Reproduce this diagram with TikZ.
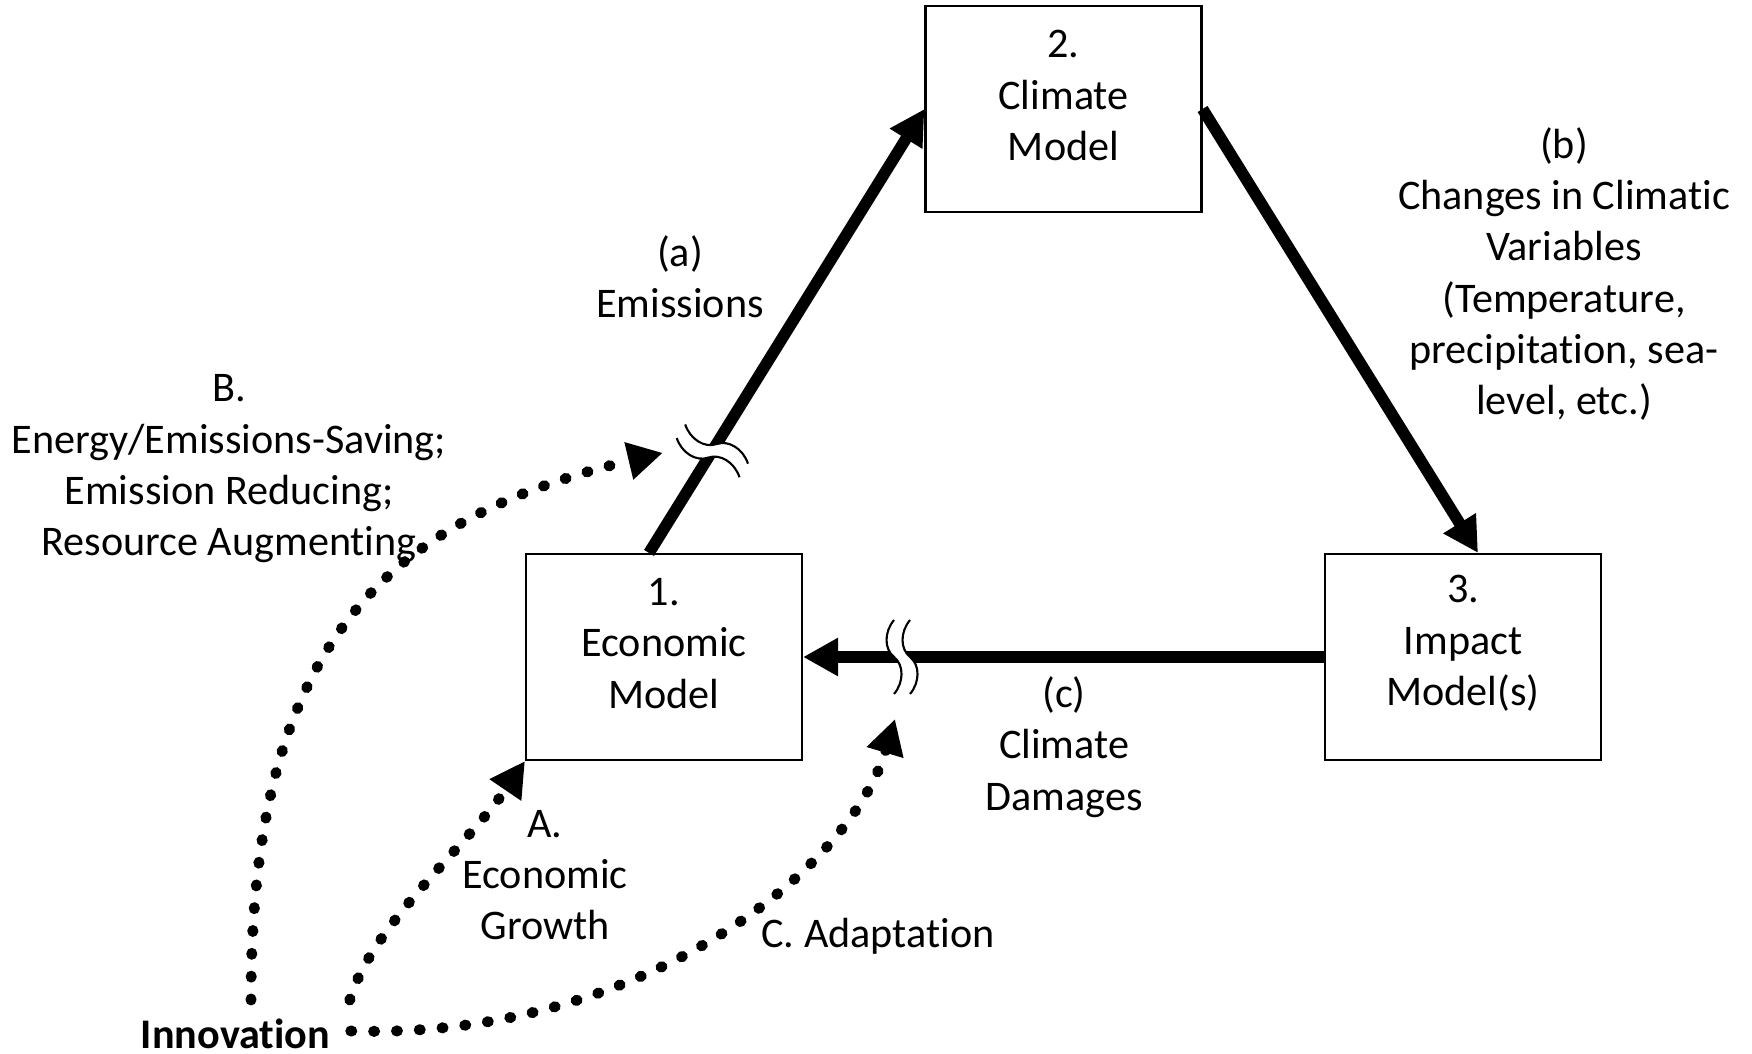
\documentclass[tikz,border=0pt]{standalone}
\usepackage{fontspec}
\setmainfont{Carlito}[Ligatures=NoCommon]
\usepackage{tikz}
\usetikzlibrary{arrows.meta, positioning, calc}

\begin{document}
\begin{tikzpicture}[
  font=\fontsize{12}{14.6}\selectfont,
  modelbox/.style={draw=black, line width=0.6pt, minimum width=2.76cm, minimum height=2.06cm},
  boxtext/.style={align=center, inner sep=0pt},
  note/.style={align=center, inner sep=0pt},
  flow/.style={-{Triangle[length=3.5mm, width=3.6mm]}, line width=3.3pt},
  spill/.style={-{Triangle[length=3.5mm, width=3.6mm]}, line width=3.1pt, line cap=round, dash pattern=on 0.3pt off 6.2pt},
  cut/.style={line width=0.6pt}
]
\useasboundingbox (0,0) rectangle (17.52,-10.54);

\node[modelbox] (eco) at (6.64,-6.57) {};
\node[modelbox] (clim) at (10.635,-1.09) {};
\node[modelbox] (imp) at (14.63,-6.57) {};
\node[boxtext] (ecotext) at ([yshift=1.35mm]eco.center) {1.\\Economic\\Model};
\node[boxtext] (climtext) at ([yshift=1.35mm]clim.center) {2.\\Climate\\Model};
\node[boxtext] (imptext) at ([yshift=1.35mm]imp.center) {3.\\Impact\\Model(s)};

\node[note] (emis) at (6.80,-2.77) {(a)\\Emissions};
\node[note] (vars) at (15.64,-2.74) {(b)\\Changes in Climatic\\Variables\\(Temperature,\\precipitation, sea-\\level, etc.)};
\node[note] (dmg) at (10.64,-7.47) {(c)\\Climate\\Damages};
\node[note] (saving) at (2.29,-4.69) {B.\\Energy/Emissions-Saving;\\Emission Reducing;\\Resource Augmenting};
\node[note] (growth) at (5.45,-8.75) {A.\\Economic\\Growth};
\node[note] (adapt) at (8.78,-9.36) {C. Adaptation};
\node[note, anchor=base, font=\fontsize{12}{14.6}\selectfont\bfseries] (inno) at (2.355,-10.48) {Innovation};

\draw[flow] ([xshift=-1.5mm]eco.north) -- (clim.west);
\draw[flow] (clim.east) -- ([xshift=1.5mm]imp.north);
\draw[flow] (imp.west) -- (eco.east);

\coordinate (cutA) at ($([xshift=-1.5mm]eco.north)!0.23!(clim.west)$);
\coordinate (cutC) at ($(imp.west)!0.81!(eco.east)$);

\begin{scope}[shift={(cutA)}, rotate=58]
  \fill[white] (-0.08,0.37) .. controls (-0.18,0.25) and (-0.18,0.08) .. (-0.08,0) .. controls (0.02,-0.08) and (0.02,-0.25) .. (-0.08,-0.37)
    -- (0.08,-0.37) .. controls (0.18,-0.25) and (0.18,-0.08) .. (0.08,0) .. controls (-0.02,0.08) and (-0.02,0.25) .. (0.08,0.37) -- cycle;
  \draw[cut] (-0.08,0.37) .. controls (-0.18,0.25) and (-0.18,0.08) .. (-0.08,0) .. controls (0.02,-0.08) and (0.02,-0.25) .. (-0.08,-0.37);
  \draw[cut] (0.08,0.37) .. controls (-0.02,0.25) and (-0.02,0.08) .. (0.08,0) .. controls (0.18,-0.08) and (0.18,-0.25) .. (0.08,-0.37);
\end{scope}
\begin{scope}[shift={(cutC)}]
  \fill[white] (-0.08,0.37) .. controls (-0.18,0.25) and (-0.18,0.08) .. (-0.08,0) .. controls (0.02,-0.08) and (0.02,-0.25) .. (-0.08,-0.37)
    -- (0.08,-0.37) .. controls (0.18,-0.25) and (0.18,-0.08) .. (0.08,0) .. controls (-0.02,0.08) and (-0.02,0.25) .. (0.08,0.37) -- cycle;
  \draw[cut] (-0.08,0.37) .. controls (-0.18,0.25) and (-0.18,0.08) .. (-0.08,0) .. controls (0.02,-0.08) and (0.02,-0.25) .. (-0.08,-0.37);
  \draw[cut] (0.08,0.37) .. controls (-0.02,0.25) and (-0.02,0.08) .. (0.08,0) .. controls (0.18,-0.08) and (0.18,-0.25) .. (0.08,-0.37);
\end{scope}

\coordinate (tipB) at ([shift={(-0.495,-0.02)}]cutA);
\coordinate (tipC) at ([shift={(-0.07,-0.62)}]cutC);

\draw[spill] ([shift={(0.19,0.48)}]inno.base east) .. controls (3.72,-9.25) and (4.68,-8.45) .. (eco.south west);
\draw[spill] ([shift={(0.155,0.48)}]inno.base) .. controls (2.51,-6.5) and (3.8,-5.2) .. (tipB);
\draw[spill] ([shift={(0.20,0.17)}]inno.base east) .. controls (6.4,-10.40) and (8.5,-8.70) .. (tipC);
\end{tikzpicture}
\end{document}
